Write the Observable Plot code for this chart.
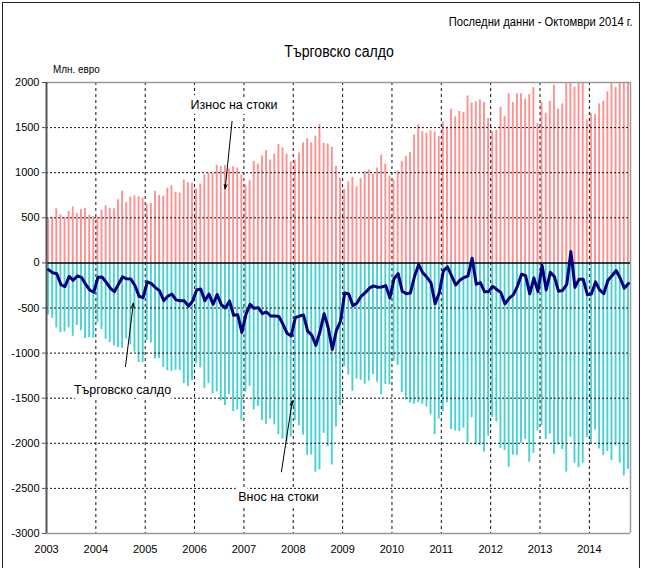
<!DOCTYPE html>
<html>
<head>
<meta charset="utf-8">
<script src="https://cdn.jsdelivr.net/npm/d3@7"></script>
<script src="https://cdn.jsdelivr.net/npm/@observablehq/plot@0.6"></script>
<style>
  html, body { margin: 0; padding: 0; background: #fff; }
  #wrap { position: relative; width: 645px; height: 568px; overflow: hidden; background: #fff;
          font-family: "Liberation Sans", Arial, sans-serif; color: #000; }
  #wrap svg { position: absolute; left: 0; top: 0; }
  .frame { position: absolute; left: 2px; top: 2px; width: 638px; height: 600px; border: 1px solid #222; box-sizing: border-box; }
  .note { position: absolute; right: 12px; top: 15px; font-size: 13.5px; line-height: 1; white-space: nowrap;
          transform: scaleX(0.83); transform-origin: right center; }
  .title { position: absolute; left: 339px; top: 44px; font-size: 16px; line-height: 1; white-space: nowrap;
           transform: translateX(-50%) scaleX(0.88); }
  .unit { position: absolute; left: 53px; top: 64px; font-size: 11px; line-height: 1; white-space: nowrap;
          transform: scaleX(0.9); transform-origin: left center; }
</style>
</head>
<body>
<div id="wrap">
  <div class="frame"></div>
  <div class="note">Последни данни - Октомври 2014 г.</div>
  <div class="title">Търговско салдо</div>
  <div class="unit">Млн. евро</div>
</div>
<script>
// Monthly data, Jan 2003 – Oct 2014, million EUR
const startYear = 2003;
const yearTicks = [2003, 2004, 2005, 2006, 2007, 2008, 2009, 2010, 2011, 2012, 2013, 2014];
const yTicks = [-3000, -2500, -2000, -1500, -1000, -500, 0, 500, 1000, 1500, 2000];

const exportsGoods = [
  500, 505, 600, 535, 505, 570, 620, 548, 593, 604, 530, 511,
  505, 585, 633, 604, 600, 700, 796, 667, 730, 741, 733, 719,
  652, 659, 793, 748, 741, 826, 856, 781, 774, 919, 889, 881,
  819, 874, 974, 993, 993, 1081, 1067, 1081, 1041, 1067, 1052, 974,
  863, 911, 1126, 1096, 1185, 1244, 1141, 1207, 1311, 1274, 1207, 1119,
  1141, 1219, 1330, 1378, 1330, 1404, 1533, 1326, 1319, 1281, 1070, 941,
  815, 900, 948, 844, 933, 1015, 1030, 985, 1052, 1196, 1096, 963,
  919, 1019, 1122, 1178, 1222, 1419, 1530, 1456, 1437, 1463, 1452, 1400,
  1563, 1507, 1704, 1619, 1678, 1667, 1852, 1770, 1785, 1807, 1778, 1600,
  1452, 1470, 1726, 1626, 1874, 1778, 1874, 1874, 1815, 1867, 1944, 1544,
  1778, 1659, 1793, 1970, 1704, 1763, 2080, 2060, 1948, 2090, 2040, 1585,
  1659, 1644, 1763, 1793, 1896, 2050, 1944, 2050, 2080, 2060
];

const importsGoods = [
  -575, -615, -720, -775, -767, -720, -813, -693, -753, -839, -830, -836,
  -665, -741, -846, -884, -919, -937, -950, -843, -908, -991, -1103, -1104,
  -861, -889, -1067, -1059, -1159, -1196, -1201, -1191, -1194, -1339, -1369, -1306,
  -1119, -1164, -1394, -1338, -1452, -1431, -1530, -1581, -1463, -1647, -1627, -1744,
  -1433, -1370, -1630, -1592, -1748, -1788, -1730, -1796, -1906, -1955, -1987, -1930,
  -1748, -1808, -1908, -2134, -2130, -2319, -2296, -1889, -2038, -2240, -1818, -1585,
  -1148, -1245, -1422, -1288, -1303, -1345, -1310, -1240, -1322, -1463, -1348, -1352,
  -1094, -1138, -1437, -1519, -1555, -1567, -1549, -1566, -1597, -1685, -1904, -1730,
  -1652, -1551, -1848, -1863, -1871, -1830, -1996, -1718, -2022, -2026, -2097, -1919,
  -1712, -1765, -2056, -2081, -2264, -2133, -2134, -1999, -1957, -2210, -2112, -1863,
  -1804, -1959, -1898, -2122, -2019, -2068, -2319, -1934, -2220, -2270, -2220, -1937,
  -2005, -1854, -2063, -2135, -2091, -2192, -2029, -2220, -2361, -2288
];

const tradeBalance = [
  -75, -110, -120, -240, -262, -150, -193, -145, -160, -235, -300, -325,
  -160, -156, -213, -280, -319, -237, -154, -176, -178, -250, -370, -385,
  -209, -230, -274, -311, -418, -370, -345, -410, -420, -420, -480, -425,
  -300, -290, -420, -345, -459, -350, -463, -500, -422, -580, -575, -770,
  -570, -459, -504, -496, -563, -544, -589, -589, -595, -681, -780, -811,
  -607, -589, -578, -756, -800, -915, -763, -563, -719, -959, -748, -644,
  -333, -345, -474, -444, -370, -330, -280, -255, -270, -267, -252, -389,
  -175, -119, -315, -341, -333, -148, -19, -110, -160, -222, -452, -330,
  -89, -44, -144, -244, -193, -163, -144, 52, -237, -219, -319, -319,
  -260, -295, -330, -455, -390, -355, -260, -125, -142, -343, -168, -319,
  -26, -300, -105, -152, -315, -305, -239, 126, -272, -180, -180, -352,
  -346, -210, -300, -342, -195, -142, -85, -170, -281, -228
];

// annotation labels (in data coordinates: year, million EUR)
const noteLabels = [
  {text: "Износ на стоки", x: 2006.80, y: 1752},
  {text: "Търговско салдо", x: 2004.54, y: -1407},
  {text: "Внос на стоки", x: 2007.70, y: -2594}
];
const noteArrows = [
  {x1: 2006.76, y1: 1570, x2: 2006.62, y2: 820},
  {x1: 2004.60, y1: -1150, x2: 2004.76, y2: -445},
  {x1: 2007.76, y1: -2316, x2: 2007.98, y2: -1530}
];

const nMonths = exportsGoods.length;
const data = exportsGoods.map((e, i) => ({
  t: startYear + i / 12,
  exp: e,
  imp: importsGoods[i],
  bal: tradeBalance[i]
}));
const xEnd = startYear + nMonths / 12;
const gridY = yTicks.filter(v => v !== 0 && v !== 2000 && v !== -3000);
const gridX = yearTicks.filter(v => v !== startYear);

const chart = Plot.plot({
  width: 645,
  height: 568,
  marginLeft: 46,
  marginRight: 15,
  marginTop: 82,
  marginBottom: 35,
  style: {
    fontFamily: '"Liberation Sans", Arial, sans-serif',
    fontSize: "11px",
    color: "#000",
    background: "transparent"
  },
  x: {domain: [startYear, xEnd]},
  y: {domain: [-3000, 2000]},
  marks: [
    Plot.rectY(data, {x1: d => d.t + 0.27 / 12, x2: d => d.t + 0.73 / 12, y1: 0, y2: "exp", fill: "#ff9090", clip: true}),
    Plot.rectY(data, {x1: d => d.t + 0.27 / 12, x2: d => d.t + 0.73 / 12, y1: 0, y2: "imp", fill: "#48d1d1", clip: true}),
    Plot.ruleY(gridY, {stroke: "#111", strokeDasharray: "2,2", strokeWidth: 1}),
    Plot.ruleX(gridX, {stroke: "#111", strokeDasharray: "3,3", strokeWidth: 1}),
    Plot.ruleY([2000, -3000], {stroke: "#9a9a9a", strokeWidth: 1.5}),
    Plot.ruleX([xEnd], {stroke: "#9a9a9a", strokeWidth: 1.5}),
    Plot.ruleY([0], {stroke: "#000", strokeWidth: 1.5}),
    Plot.ruleX([startYear], {stroke: "#555", strokeWidth: 2}),
    Plot.line(data, {x: d => d.t + 0.5 / 12, y: "bal", stroke: "#000080", strokeWidth: 3, strokeLinejoin: "round"}),
    Plot.text(noteLabels, {x: "x", y: "y", text: "text", fontSize: 12.5, fill: "#000", stroke: "#fff", strokeWidth: 10}),
    Plot.arrow(noteArrows, {x1: "x1", y1: "y1", x2: "x2", y2: "y2", stroke: "#000", strokeWidth: 1, headLength: 7, headAngle: 35}),
    Plot.axisY(yTicks, {tickSize: 4, tickPadding: 3, tickFormat: d => String(d), label: null, stroke: "#555"}),
    Plot.axisX(yearTicks, {tickSize: 0, tickPadding: 12, tickFormat: d => String(d), label: null})
  ]
});
document.getElementById("wrap").appendChild(chart);
</script>
</body>
</html>
